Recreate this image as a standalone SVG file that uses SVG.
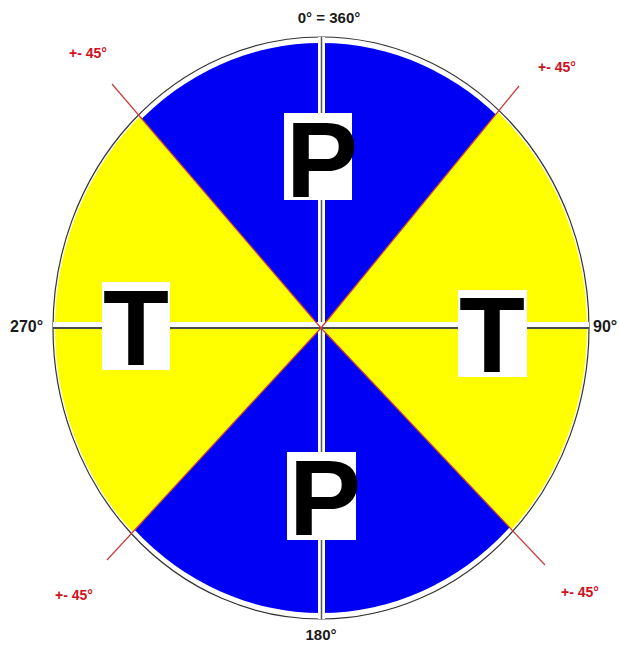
<svg xmlns="http://www.w3.org/2000/svg" width="619" height="646" viewBox="0 0 619 646">
<style>
.deg{font-family:"Liberation Sans",Arial,sans-serif;font-weight:bold;font-size:15px;fill:#1a1a1a}
.side{font-size:16px}
.pm{font-family:"Liberation Sans",Arial,sans-serif;font-weight:bold;font-size:14px;fill:#d0101c}
.big{font-family:"Liberation Sans",Arial,sans-serif;font-weight:bold;font-size:108px;fill:#000;text-anchor:middle}
.box{fill:#fff}
.red{stroke:#c83a3a;stroke-width:1.2;fill:none}
.band{fill:#fff}
</style>
<defs>
<clipPath id="clipY">
<ellipse cx="321" cy="328" rx="266" ry="289"/>
</clipPath>
<clipPath id="clipB">
<ellipse cx="321" cy="328" rx="264" ry="285"/>
</clipPath>
</defs>
<rect width="619" height="646" fill="#fff"/>
<g id="quadrants">
<g clip-path="url(#clipY)" fill="#ffff00">
<polygon points="321,328 40,0 0,0 0,646 28,646"/>
<polygon points="321,328 589,0 619,0 619,646 622,646"/>
</g>
<g clip-path="url(#clipB)" fill="#0000f5">
<polygon points="321,328 40,0 589,0"/>
<polygon points="321,328 28,646 622,646"/>
</g>
<ellipse cx="321" cy="328" rx="268" ry="291" fill="none" stroke="#333" stroke-width="1.2"/>
</g>
<g id="connectors">
<rect class="band" x="318" y="37" width="7" height="582"/>
<line x1="321.5" y1="37" x2="321.5" y2="619" stroke="#555" stroke-width="1.5"/>
<rect class="band" x="53" y="322" width="536" height="7"/>
<line x1="53" y1="328" x2="589" y2="328" stroke="#111" stroke-width="1.3"/>
<line class="red" x1="321" y1="328" x2="112" y2="84"/>
<line class="red" x1="321" y1="328" x2="519" y2="86"/>
<line class="red" x1="321" y1="328" x2="107" y2="560"/>
<line class="red" x1="321" y1="328" x2="545" y2="565"/>
</g>
<g id="P-top">
<rect class="box" x="284" y="113" width="68" height="87"/>
<text class="big" x="322" y="197">P</text>
</g>
<g id="P-bottom">
<rect class="box" x="287" y="452" width="69" height="88"/>
<text class="big" x="325" y="535">P</text>
</g>
<g id="T-left">
<rect class="box" x="102" y="282" width="68" height="88"/>
<text class="big" x="136" y="365">T</text>
</g>
<g id="T-right">
<rect class="box" x="458" y="290" width="69" height="87"/>
<text class="big" x="492" y="372">T</text>
</g>
<g id="labels">
<text class="deg" x="329" y="23" text-anchor="middle">0° = 360°</text>
<text class="deg side" x="10" y="332">270°</text>
<text class="deg side" x="593" y="332">90°</text>
<text class="deg" x="321" y="640" text-anchor="middle">180°</text>
<text class="pm" x="69" y="58">+- 45°</text>
<text class="pm" x="538" y="72">+- 45°</text>
<text class="pm" x="55" y="600">+- 45°</text>
<text class="pm" x="561" y="597">+- 45°</text>
</g>
</svg>
